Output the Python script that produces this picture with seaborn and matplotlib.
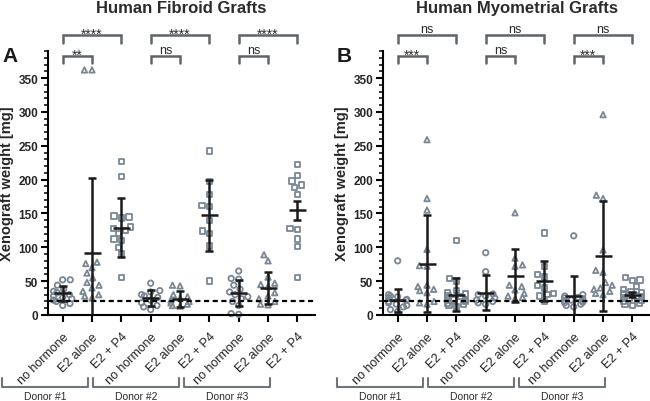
import numpy as np
import pandas as pd
import matplotlib
matplotlib.use('Agg')
import matplotlib.pyplot as plt
import matplotlib.transforms as mtrans
from matplotlib.collections import PathCollection
from matplotlib.ticker import MultipleLocator
import seaborn as sns

donors = ['Donor #1', 'Donor #2', 'Donor #3']
treatments = ['no hormone', 'E2 alone', 'E2 + P4']
titles = ['Human Fibroid Grafts', 'Human Myometrial Grafts']
letters = ['A', 'B']

# fibroid grafts, xenograft weight [mg]
fib_d1_none = [52, 52, 44, 38, 35, 33, 30, 28, 26, 24, 22, 20, 17, 14]
fib_d1_e2 = [362, 362, 78, 76, 70, 62, 55, 48, 44, 40, 35, 30, 28, 25]
fib_d1_e2p4 = [227, 205, 146, 145, 143, 130, 128, 125, 120, 112, 110, 100, 90, 55]
fib_d2_none = [47, 36, 34, 30, 28, 26, 22, 18, 14, 12, 8]
fib_d2_e2 = [44, 43, 30, 27, 25, 22, 20, 18, 16, 14, 13]
fib_d2_e2p4 = [242, 197, 178, 162, 160, 140, 124, 120, 102, 50]
fib_d3_none = [65, 54, 53, 44, 38, 34, 30, 27, 24, 20, 14, 2, 1]
fib_d3_e2 = [89, 80, 56, 47, 45, 42, 33, 28, 24, 20, 16, 15]
fib_d3_e2p4 = [222, 206, 198, 192, 188, 178, 128, 126, 112, 101, 55]

# myometrial grafts, xenograft weight [mg]
myo_d1_none = [80, 30, 28, 27, 25, 23, 22, 20, 18, 16, 14, 12, 8, 5]
myo_d1_e2 = [259, 172, 155, 97, 73, 72, 44, 42, 38, 36, 33, 20, 18, 16]
myo_d1_e2p4 = [110, 54, 50, 36, 33, 31, 29, 27, 25, 24, 22, 21, 20, 18, 16, 14, 12]
myo_d2_none = [92, 64, 30, 31, 28, 25, 22, 20, 18, 16]
myo_d2_e2 = [151, 84, 74, 72, 44, 42, 37, 32, 28, 26, 24]
myo_d2_e2p4 = [121, 72, 60, 56, 44, 40, 32, 30, 28, 20]
myo_d3_none = [117, 30, 28, 26, 25, 24, 22, 21, 20, 19, 18, 16, 14, 12]
myo_d3_e2 = [296, 177, 172, 96, 66, 63, 48, 44, 40, 38, 35, 32, 30]
myo_d3_e2p4 = [55, 52, 51, 42, 38, 35, 33, 31, 30, 28, 27, 25, 24, 22, 20, 18, 16, 14]

# mean and error bar as drawn
fib_mean = [32, 91, 129, 25, 24, 147, 32, 40, 155]
fib_err = [11.5, 112, 43.5, 12, 12, 53, 19, 24, 14]
myo_mean = [22, 76, 30, 33, 58, 50, 28, 87, 30]
myo_err = [17, 72, 24, 26, 39.5, 30, 29, 81.5, 4]

# significance: (no hormone vs E2 alone, no hormone vs E2 + P4) per donor
fib_sig = [('**', '****'), ('ns', '****'), ('ns', '****')]
myo_sig = [('***', 'ns'), ('ns', 'ns'), ('***', 'ns')]

threshold = 20

fib_sets = [fib_d1_none, fib_d1_e2, fib_d1_e2p4, fib_d2_none, fib_d2_e2,
            fib_d2_e2p4, fib_d3_none, fib_d3_e2, fib_d3_e2p4]
myo_sets = [myo_d1_none, myo_d1_e2, myo_d1_e2p4, myo_d2_none, myo_d2_e2,
            myo_d2_e2p4, myo_d3_none, myo_d3_e2, myo_d3_e2p4]

order = ['{}|{}'.format(d, t) for d in donors for t in treatments]


def make_frame(sets):
    rows = []
    for key, vals in zip(order, sets):
        donor, treat = key.split('|')
        for v in vals:
            rows.append({'group': key, 'donor': donor, 'treatment': treat, 'weight': v})
    return pd.DataFrame(rows)


def narrow_swarm(coll, width):
    # squeeze seaborn's beeswarm into a narrower band (points pile up at the edges)
    fn = getattr(coll.draw, '__func__', None)
    if fn is None or not fn.__closure__:
        return
    for cell in fn.__closure__:
        try:
            obj = cell.cell_contents
        except ValueError:
            continue
        if type(obj).__name__ == 'Beeswarm':
            obj.width = width


frames = [make_frame(fib_sets), make_frame(myo_sets)]
means = [fib_mean, myo_mean]
errs = [fib_err, myo_err]
sigs = [fib_sig, myo_sig]

sns.set_style('ticks')
plt.rcParams['font.family'] = ['Liberation Sans', 'DejaVu Sans']

gray = '#7a8793'
dark = '#1a1a1a'
markers = {'no hormone': 'o', 'E2 alone': '^', 'E2 + P4': 's'}
donor_span = [(-2.08, 0.86), (1.02, 3.98), (4.12, 7.08)]

fig = plt.figure(figsize=(6.5, 4.02), dpi=100)
lefts = [48 / 650, 383 / 650]

for k in range(2):
    ax = fig.add_axes([lefts[k], 1 - 316 / 402, 267 / 650, 264 / 402])
    ax.set_ylim(0, 390)
    df = frames[k]
    for treat in treatments:
        sns.swarmplot(data=df[df['treatment'] == treat], x='group', y='weight',
                      order=order, marker=markers[treat], color=gray, size=3.9,
                      linewidth=1.3, ax=ax, warn_thresh=1)
    for coll in ax.collections:
        if isinstance(coll, PathCollection) and len(coll.get_offsets()) > 0:
            coll.set_facecolor('none')
            coll.set_edgecolor(gray)
            coll.set_linewidth(1.3)
            coll.set_clip_on(False)
            coll.set_zorder(2)
            narrow_swarm(coll, 0.62)

    x = np.arange(len(order))
    ax.axhline(threshold, color='black', lw=1.6, dashes=(2.3, 1.6), zorder=3)
    ax.errorbar(x, means[k], yerr=errs[k], fmt='none', ecolor=dark,
                elinewidth=1.8, capsize=3.2, capthick=1.8, zorder=4)
    ax.hlines(means[k], x - 0.29, x + 0.29, color=dark, lw=1.8, zorder=4)

    ax.set_xlim(-0.5, 8.6)
    ax.set_ylim(0, 390)
    ax.set_xticks(x)
    ax.set_xticklabels(treatments * 3, rotation=45, ha='right',
                       rotation_mode='anchor', fontsize=9, color='#222222')
    ax.set_yticks(range(0, 351, 50))
    ax.yaxis.set_minor_locator(MultipleLocator(10))
    for lab in ax.get_yticklabels():
        lab.set_fontweight('bold')
        lab.set_fontsize(8.5)
    ax.tick_params(axis='both', which='major', length=5, width=1.5, color='black', pad=2)
    ax.tick_params(axis='y', which='minor', length=3, width=1.1, color='black')
    ax.tick_params(axis='x', which='major', pad=6)
    sns.despine(ax=ax)
    for s in ['left', 'bottom']:
        ax.spines[s].set_linewidth(1.5)
        ax.spines[s].set_color('black')
    ax.set_xlabel('')
    ax.set_ylabel('Xenograft weight [mg]', fontweight='bold', fontsize=10.5)
    ax.yaxis.set_label_coords(-34 / 267, 0.5)

    ax.text(0.5, 1 + 39 / 264, titles[k], transform=ax.transAxes, ha='center',
            va='baseline', fontsize=12, fontweight='bold', color='#2b2b2b')
    fig.text(lefts[k] - 46 / 650, 1 - 62 / 402, letters[k], fontsize=15,
             fontweight='bold', va='baseline', ha='left', color='#1a1a1a')

    # significance brackets
    for i, (near, far) in enumerate(sigs[k]):
        base = 3 * i
        for x0, x1, y, h, txt in [(base, base + 1, 382.6, 10.5, near),
                                  (base, base + 2, 413.6, 11.8, far)]:
            ax.plot([x0, x0, x1, x1], [y - h, y, y, y - h], color='#5f6468',
                    lw=1.8, clip_on=False, solid_joinstyle='miter')
            if txt == 'ns':
                ax.text((x0 + x1) / 2, y + 4.5, txt, ha='center', va='baseline',
                        fontsize=9, color='#2b2b2b', clip_on=False)
            else:
                ax.text((x0 + x1) / 2, y - 3.5, txt, ha='center', va='baseline',
                        fontsize=10, color='#2b2b2b', clip_on=False)

    # donor brackets below tick labels
    trans = mtrans.blended_transform_factory(ax.transData, fig.transFigure)
    for (x0, x1), donor in zip(donor_span, donors):
        ax.plot([x0, x0, x1, x1], [1 - 379 / 402, 1 - 388 / 402, 1 - 388 / 402, 1 - 379 / 402],
                color='#6f7478', lw=1.5, transform=trans, clip_on=False)
        ax.text((x0 + x1) / 2, 1.5 / 402, donor, transform=trans, ha='center',
                va='baseline', fontsize=7.5, color='#2b2b2b')

plt.savefig('out.png', dpi=100)
